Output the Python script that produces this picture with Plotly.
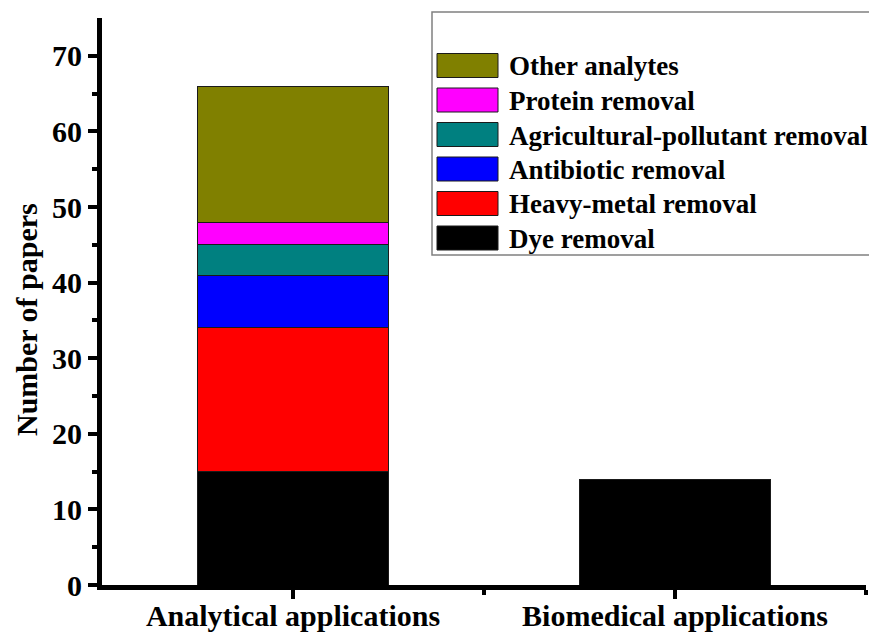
import plotly.graph_objects as go

categories = ["Analytical applications", "Biomedical applications"]
series_names = ["Dye removal", "Heavy-metal removal", "Antibiotic removal",
                "Agricultural-pollutant removal", "Protein removal", "Other analytes"]
dye = [15, 14]
heavy_metal = [19, None]
antibiotic = [7, None]
agricultural = [4, None]
protein = [3, None]
other = [18, None]
series_values = [dye, heavy_metal, antibiotic, agricultural, protein, other]
colors = ["#000000", "#FF0000", "#0000FF", "#008080", "#FF00FF", "#808000"]
y_ticks = [0, 10, 20, 30, 40, 50, 60, 70]
y_title = "Number of papers"

FONT = "Liberation Serif"
OFF = 8  # page body margin in the browser
W, H = 877 - OFF, 632 - OFF
L, T = 102 - OFF, 18 - OFF
R = W - (866 - OFF)
B = H - (585 - OFF)
pw, ph = W - L - R, H - T - B

def px_x(px):
    return (px - OFF - L) / pw

def px_y(py):
    return (H - B - (py - OFF)) / ph

xpos = list(range(len(categories)))

fig = go.Figure()
for name, vals, col in zip(series_names, series_values, colors):
    fig.add_trace(go.Bar(
        x=xpos, y=vals, name=name, width=0.5,
        marker=dict(color=col, line=dict(color="#1a1a1a", width=1)),
        showlegend=False,
    ))

# custom legend (large swatches as in the reference)
shapes = [dict(type="rect", xref="paper", yref="paper",
               x0=px_x(432), x1=px_x(890), y0=px_y(255), y1=px_y(12),
               line=dict(color="#808080", width=1.5), fillcolor="white", layer="below")]
annotations = []
order = list(range(len(series_names)))[::-1]
for k, i in enumerate(order):
    cy = 65.5 + k * 34.5
    shapes.append(dict(type="rect", xref="paper", yref="paper",
                       x0=px_x(437), x1=px_x(498), y0=px_y(cy + 12), y1=px_y(cy - 12),
                       line=dict(color="#1a1a1a", width=1), fillcolor=colors[i]))
    annotations.append(dict(xref="paper", yref="paper", x=px_x(507), y=px_y(cy + 1),
                            xanchor="left", yanchor="middle", showarrow=False,
                            text=series_names[i],
                            font=dict(family=FONT, size=27, color="black", weight="bold")))

# y-axis title (placed like the reference, slightly below the axis middle)
annotations.append(dict(xref="paper", yref="paper", x=px_x(26), y=px_y(320),
                        xanchor="center", yanchor="middle", showarrow=False,
                        textangle=-90, text=y_title,
                        font=dict(family=FONT, size=30, color="black", weight="bold")))

fig.update_layout(
    width=W, height=H, margin=dict(l=L, r=R, t=T, b=B, autoexpand=False),
    barmode="stack", bargap=0.5,
    plot_bgcolor="white", paper_bgcolor="white",
    shapes=shapes, annotations=annotations,
    font=dict(family=FONT, color="black", weight="bold"),
)
fig.update_xaxes(
    automargin=False,
    range=[-0.5, 1.5], tickvals=xpos, ticktext=categories,
    showline=True, linecolor="black", linewidth=5,
    ticks="outside", ticklen=9, tickwidth=4, tickcolor="black",
    minor=dict(tickvals=[0.5, 1.5], ticks="outside", ticklen=5, tickwidth=4, tickcolor="black"),
    showgrid=False, zeroline=False, ticklabelstandoff=-9,
    tickfont=dict(family=FONT, size=30, color="black", weight="bold"),
)
fig.update_yaxes(
    automargin=False,
    range=[0, 75], tickvals=y_ticks,
    showline=True, linecolor="black", linewidth=5,
    ticks="outside", ticklen=9, tickwidth=4, tickcolor="black",
    minor=dict(tickvals=[5, 15, 25, 35, 45, 55, 65], ticks="outside", ticklen=5, tickwidth=4, tickcolor="black"),
    showgrid=False, zeroline=False,
    tickfont=dict(family=FONT, size=30, color="black", weight="bold"),
)

fig.write_html("out.html")
